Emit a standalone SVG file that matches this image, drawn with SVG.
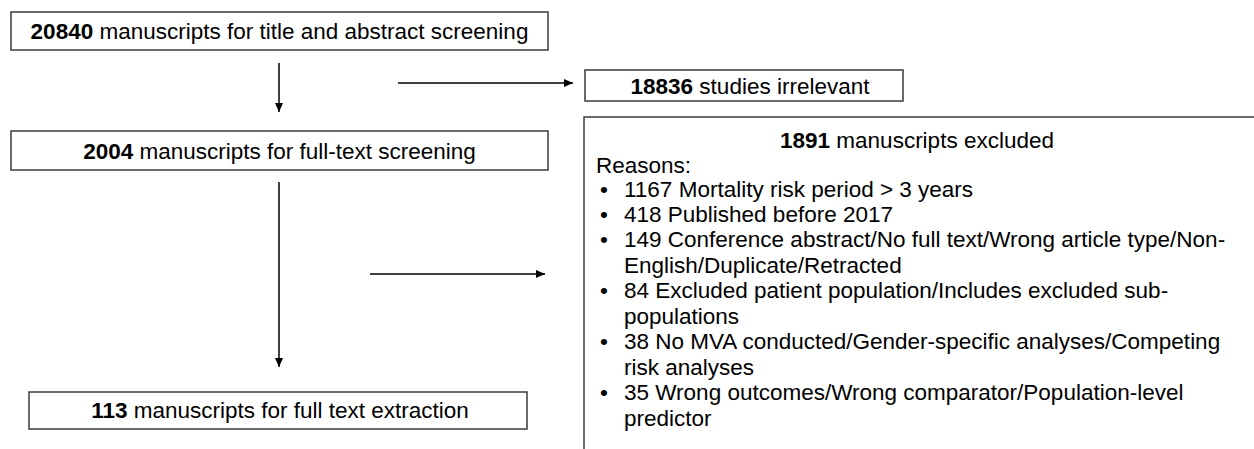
<svg xmlns="http://www.w3.org/2000/svg" width="1254" height="449" viewBox="0 0 1254 449">
<defs>
<marker id="ah" markerWidth="10" markerHeight="10" refX="9" refY="5" orient="auto" markerUnits="userSpaceOnUse">
<path d="M0,1 L9,5 L0,9 Z" fill="#000"/>
</marker>
<style>
.box{fill:#fff;stroke:#3a3a3a;stroke-width:1.5}
.t{font-family:"Liberation Sans",Arial,sans-serif;font-size:22.5px;fill:#000}
.c{text-anchor:middle}
.b{font-weight:bold}
.ln{stroke:#000;stroke-width:1.5;fill:none;marker-end:url(#ah)}
</style>
</defs>
<rect width="1254" height="449" fill="#fff"/>
<g id="connectors">
<line class="ln" x1="279" y1="63" x2="279" y2="112"/>
<line class="ln" x1="279" y1="182" x2="279" y2="367"/>
<line class="ln" x1="398" y1="83" x2="573" y2="83"/>
<line class="ln" x1="370" y1="274" x2="545" y2="274"/>
</g>
<g id="n1">
<rect class="box" x="11" y="12" width="537" height="38"/>
<text class="t c" x="279.5" y="39"><tspan class="b">20840</tspan> manuscripts for title and abstract screening</text>
</g>
<g id="n2">
<rect class="box" x="585" y="70" width="318" height="31"/>
<text class="t c" x="750" y="94"><tspan class="b">18836</tspan> studies irrelevant</text>
</g>
<g id="n3">
<rect class="box" x="11" y="131" width="537" height="39"/>
<text class="t c" x="279.5" y="159"><tspan class="b">2004</tspan> manuscripts for full-text screening</text>
</g>
<g id="n4">
<rect class="box" x="29" y="392" width="498" height="37"/>
<text class="t c" x="280" y="418"><tspan class="b">113</tspan> manuscripts for full text extraction</text>
</g>
<g id="n5">
<rect class="box" x="584" y="117" width="720" height="400"/>
<text class="t c" x="917" y="148"><tspan class="b">1891</tspan> manuscripts excluded</text>
<text class="t" x="596" y="172.5">Reasons:</text>
<g class="t">
<text x="600" y="197">•</text><text x="624" y="197">1167 Mortality risk period &gt; 3 years</text>
<text x="600" y="222">•</text><text x="624" y="222">418 Published before 2017</text>
<text x="600" y="247">•</text><text x="624" y="247">149 Conference abstract/No full text/Wrong article type/Non-</text>
<text x="624" y="272.5">English/Duplicate/Retracted</text>
<text x="600" y="298">•</text><text x="624" y="298">84 Excluded patient population/Includes excluded sub-</text>
<text x="624" y="323.5">populations</text>
<text x="600" y="349">•</text><text x="624" y="349">38 No MVA conducted/Gender-specific analyses/Competing</text>
<text x="624" y="374.5">risk analyses</text>
<text x="600" y="400">•</text><text x="624" y="400">35 Wrong outcomes/Wrong comparator/Population-level</text>
<text x="624" y="425.5">predictor</text>
</g>
</g>
</svg>
